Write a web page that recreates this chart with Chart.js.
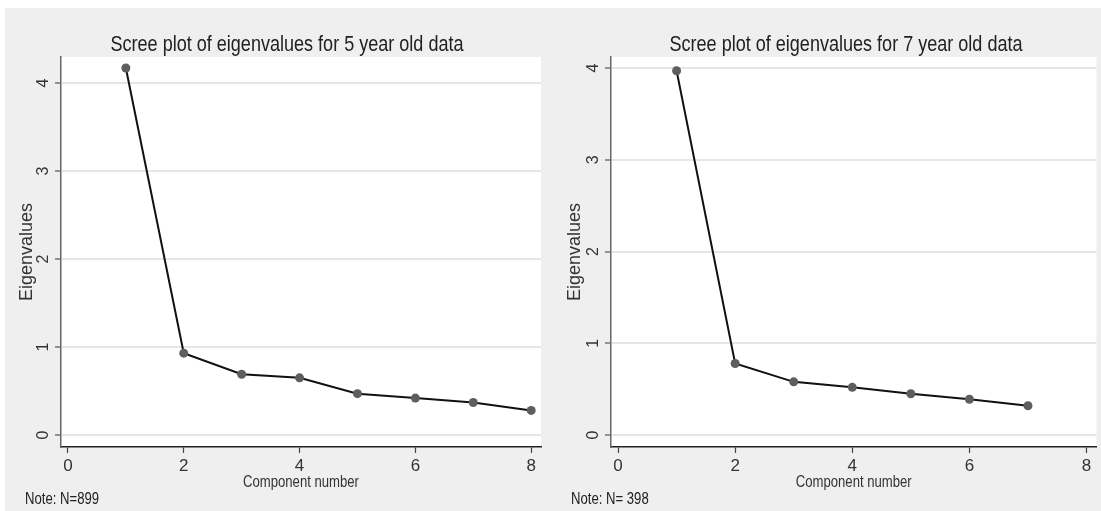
<!DOCTYPE html>
<html>
<head>
<meta charset="utf-8">
<script src="https://cdn.jsdelivr.net/npm/chart.js@4/dist/chart.umd.min.js"></script>
<style>
  body { margin: 0; background: #ffffff; }
  #panel { position: absolute; left: 5px; top: 8px; width: 1096px; height: 503px; background: #efefef; }
  canvas { position: absolute; top: 0; }
  #left { left: 0; }
  #right { left: 545px; }
</style>
</head>
<body>
<div id="panel">
  <canvas id="left" width="545" height="503"></canvas>
  <canvas id="right" width="551" height="503"></canvas>
</div>
<script>
// data
const components5 = [1, 2, 3, 4, 5, 6, 7, 8];
const eigen5 = [4.17, 0.93, 0.69, 0.65, 0.47, 0.42, 0.37, 0.28];
const components7 = [1, 2, 3, 4, 5, 6, 7];
const eigen7 = [3.97, 0.78, 0.58, 0.52, 0.45, 0.39, 0.32];
const xTicks = [0, 2, 4, 6, 8];
const yTicks = [0, 1, 2, 3, 4];

const FONT = "'Liberation Sans', Arial, sans-serif";
const SQUEEZE = 0.82; // Stata draws horizontal text narrow

function narrowText(ctx, text, x, y, size, align) {
  ctx.save();
  ctx.font = size + "px " + FONT;
  ctx.textAlign = align;
  ctx.textBaseline = "middle";
  ctx.translate(x, y);
  ctx.scale(SQUEEZE, 1);
  ctx.fillText(text, 0, 0);
  ctx.restore();
}

// white plot region, titles, note and rotated y labels
const panelText = {
  id: "panelText",
  beforeDraw(chart, args, opts) {
    const { ctx, chartArea } = chart;
    ctx.save();
    ctx.fillStyle = "#ffffff";
    ctx.fillRect(chartArea.left, chartArea.top, chartArea.right - chartArea.left, chartArea.bottom - chartArea.top);
    ctx.restore();
  },
  afterDraw(chart, args, opts) {
    const { ctx, chartArea } = chart;
    ctx.save();
    ctx.fillStyle = "#222";
    narrowText(ctx, opts.title, opts.titleX, 37, 22, "center");
    narrowText(ctx, opts.note, opts.noteX, 492, 16, "left");
    ctx.fillStyle = "#333";
    narrowText(ctx, "Component number", (chartArea.left + chartArea.right) / 2, 475, 16, "center");

    const yScale = chart.scales.y;
    ctx.font = "16px " + FONT;
    ctx.textAlign = "center";
    ctx.textBaseline = "middle";
    yScale.ticks.forEach((t) => {
      const y = yScale.getPixelForValue(t.value);
      ctx.save();
      ctx.translate(chartArea.left - 17, y);
      ctx.rotate(-Math.PI / 2);
      ctx.fillText(String(t.value), 0, 0);
      ctx.restore();
    });
    ctx.restore();
  },
};

function makeChart(id, xs, ys, cfg) {
  return new Chart(document.getElementById(id), {
    type: "line",
    data: {
      datasets: [
        {
          data: xs.map((x, i) => ({ x: x, y: ys[i] })),
          borderColor: "#111111",
          borderWidth: 2,
          pointRadius: 4.5,
          pointBackgroundColor: "#5e5e5e",
          pointBorderColor: "#5e5e5e",
          pointBorderWidth: 0,
          tension: 0,
        },
      ],
    },
    options: {
      responsive: false,
      animation: false,
      layout: { padding: { top: 49, right: cfg.padRight, left: 0, bottom: 0 } },
      plugins: {
        legend: { display: false },
        tooltip: { enabled: false },
        panelText: cfg,
      },
      scales: {
        x: {
          type: "linear",
          min: -0.12,
          max: 8.17,
          afterBuildTicks: (scale) => {
            scale.ticks = xTicks.map((v) => ({ value: v }));
          },
          afterFit: (scale) => {
            scale.height = 64;
          },
          grid: { drawOnChartArea: false, tickLength: 6, tickColor: "#444", tickWidth: 1.2 },
          border: { color: "#222", width: 1.5 },
          ticks: { font: { family: FONT, size: 17 }, color: "#333", padding: 3, maxRotation: 0 },
        },
        y: {
          type: "linear",
          min: cfg.yMin,
          max: cfg.yMax,
          afterBuildTicks: (scale) => {
            scale.ticks = yTicks.map((v) => ({ value: v }));
          },
          afterFit: (scale) => {
            scale.width = cfg.yWidth;
          },
          grid: { color: "#e6e6e6", lineWidth: 2, tickLength: 6, tickColor: "#555", tickWidth: 1.2 },
          border: { color: "#666", width: 1.5 },
          ticks: { display: false },
          title: {
            display: true,
            text: "Eigenvalues",
            font: { family: FONT, size: 18 },
            color: "#333",
            padding: { top: cfg.yTitlePad, bottom: 0 },
          },
        },
      },
    },
    plugins: [panelText],
  });
}

makeChart("left", components5, eigen5, {
  title: "Scree plot of eigenvalues for 5 year old data",
  titleX: 282,
  note: "Note: N=899",
  noteX: 20,
  padRight: 9,
  yWidth: 56,
  yTitlePad: 11,
  yMin: -0.136,
  yMax: 4.295,
});

makeChart("right", components7, eigen7, {
  title: "Scree plot of eigenvalues for 7 year old data",
  titleX: 296,
  note: "Note: N= 398",
  noteX: 21,
  padRight: 2,
  yWidth: 61,
  yTitlePad: 14,
  yMin: -0.13,
  yMax: 4.12,
});
</script>
</body>
</html>
